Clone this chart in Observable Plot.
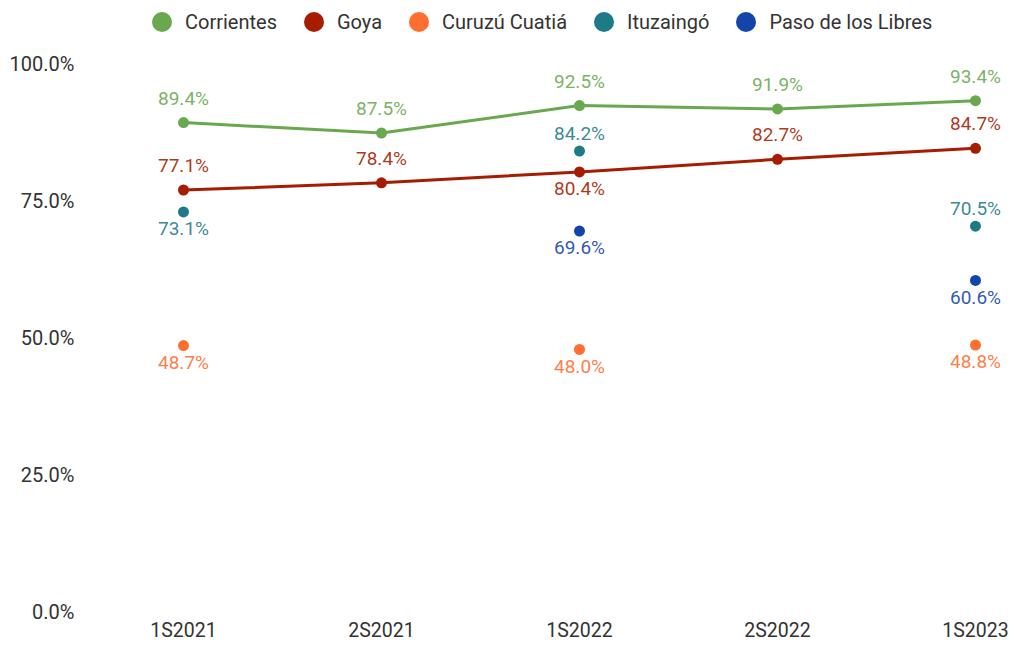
<!DOCTYPE html>
<html>
<head>
<meta charset="utf-8">
<script src="https://cdn.jsdelivr.net/npm/d3@7"></script>
<script src="https://cdn.jsdelivr.net/npm/@observablehq/plot@0.6"></script>
<style>
  html, body { margin: 0; padding: 0; background: #fff; }
  body { width: 1014px; height: 646px; overflow: hidden; font-family: Roboto, "Noto Sans", sans-serif; }
  #legend { height: 40px; display: flex; align-items: center; padding-left: 152px; padding-top: 3px; box-sizing: border-box; font-size: 20px; color: #333; }
  .item { display: flex; align-items: center; margin-right: 27px; }
  .sw { width: 20px; height: 20px; border-radius: 50%; margin-right: 13px; }
</style>
</head>
<body>
<div id="legend"></div>
<div id="chart"></div>
<script>
const periods = ["1S2021", "2S2021", "1S2022", "2S2022", "1S2023"];
const seriesNames = ["Corrientes", "Goya", "Curuzú Cuatiá", "Ituzaingó", "Paso de los Libres"];
const seriesColors = ["#6aa84f", "#a61c00", "#ff6d31", "#1c7b87", "#1244ab"];
const lineSeries = ["Corrientes", "Goya"];

const corrientes = [89.4, 87.5, 92.5, 91.9, 93.4];
const goya = [77.1, 78.4, 80.4, 82.7, 84.7];
const curuzu = [48.7, null, 48.0, null, 48.8];
const ituzaingo = [73.1, null, 84.2, null, 70.5];
const paso = [null, null, 69.6, null, 60.6];

const corrientesLabel = ["above", "above", "above", "above", "above"];
const goyaLabel = ["above", "above", "below", "above", "above"];
const curuzuLabel = ["below", null, "below", null, "below"];
const ituzaingoLabel = ["below", null, "above", null, "above"];
const pasoLabel = [null, null, "below", null, "below"];

const allValues = [corrientes, goya, curuzu, ituzaingo, paso];
const allLabels = [corrientesLabel, goyaLabel, curuzuLabel, ituzaingoLabel, pasoLabel];

const data = [];
seriesNames.forEach((name, si) => {
  periods.forEach((p, i) => {
    const v = allValues[si][i];
    if (v != null) data.push({series: name, period: p, value: v / 100, pos: allLabels[si][i], isLine: lineSeries.includes(name)});
  });
});

// legend
const legend = document.getElementById("legend");
seriesNames.forEach((n, i) => {
  const it = document.createElement("div");
  it.className = "item";
  it.innerHTML = `<span class="sw" style="background:${seriesColors[i]}"></span><span>${n}</span>`;
  legend.appendChild(it);
});

const color = d3.scaleOrdinal(seriesNames, seriesColors);
const fmt = d3.format(".1%");
const dyFor = d => d.pos === "below" ? 17 : (d.isLine ? -24 : -17);

const chart = Plot.plot({
  width: 1014,
  height: 606,
  marginTop: 24,
  marginBottom: 34,
  marginLeft: 80,
  marginRight: 20,
  style: {fontFamily: "Roboto, 'Noto Sans', sans-serif", fontSize: "19px", color: "#333", background: "#fff"},
  x: {type: "point", domain: periods, range: [183, 975], padding: 0},
  y: {domain: [0, 1], range: [572, 24]},
  marks: [
    Plot.axisY({ticks: [0, 0.25, 0.5, 0.75, 1], tickFormat: fmt, tickSize: 0, tickPadding: 6, label: null, fontSize: 20, fill: "#333"}),
    Plot.axisX({tickSize: 0, tickPadding: 11, label: null, fontSize: 19.5, fill: "#333"}),
    ...lineSeries.map(n => Plot.line(data.filter(d => d.series === n), {x: "period", y: "value", stroke: color(n), strokeWidth: 3})),
    ...seriesNames.map(n => Plot.dot(data.filter(d => d.series === n), {x: "period", y: "value", r: 5.5, fill: color(n), stroke: "none"})),
    ...[-24, -17, 17].map(off => Plot.text(data.filter(d => dyFor(d) === off), {
      x: "period", y: "value", text: d => fmt(d.value), dy: off,
      fill: d => color(d.series), fontSize: 19, fillOpacity: 0.9
    }))
  ]
});
document.getElementById("chart").appendChild(chart);
</script>
</body>
</html>
